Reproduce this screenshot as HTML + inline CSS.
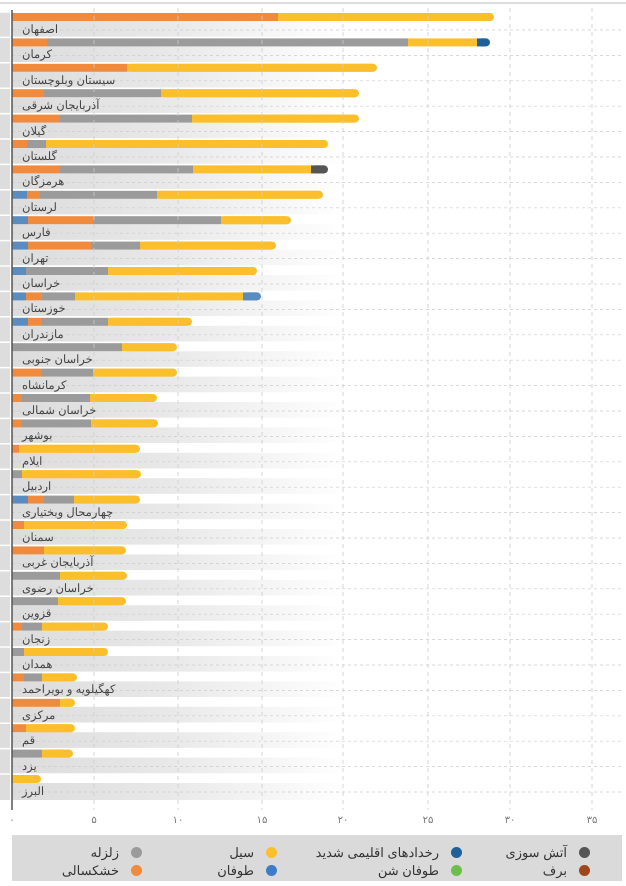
<!DOCTYPE html>
<html><head><meta charset="utf-8"><style>
body{margin:0;background:#fff;width:626px;height:886px;overflow:hidden;position:relative;font-family:"Liberation Sans","Noto Sans CJK SC",sans-serif}
.lab{position:absolute;left:22px;font-size:11.5px;color:#444;direction:rtl;white-space:nowrap;line-height:14px}
.lg{position:absolute;direction:rtl;font-size:13px;color:#333;white-space:nowrap;line-height:16px}
.lg i{display:inline-block;width:11px;height:11px;border-radius:50%;margin-left:12px;vertical-align:-1px}
.tk{position:absolute;top:815px;font-size:10px;color:#777;width:30px;margin-left:-15px;text-align:center}
</style></head><body>
<svg width="626" height="886" xmlns="http://www.w3.org/2000/svg" style="position:absolute;left:0;top:0">
<defs>
<linearGradient id="g" x1="0" x2="1" y1="0" y2="0">
<stop offset="0" stop-color="#dcdcdc"/><stop offset="0.25" stop-color="#e8e8e8"/><stop offset="0.55" stop-color="#ffffff"/><stop offset="1" stop-color="#ffffff"/>
</linearGradient>
</defs>
<line x1="0" y1="3" x2="626" y2="3" stroke="#bbb" stroke-width="1"/>
<g id="rows"></g>
<rect x="12" y="835" width="610" height="46" fill="#dadada"/>
</svg>
<div id="labs"></div>
<div class="lg" style="right:36px;top:845px"><i style="background:#555"></i>آتش سوزی</div>
<div class="lg" style="right:36px;top:863px"><i style="background:#a0461a"></i>برف</div>
<div class="lg" style="right:164px;top:845px"><i style="background:#1f5f9a"></i>رخدادهای اقلیمی شدید</div>
<div class="lg" style="right:164px;top:863px"><i style="background:#6cbf4a"></i>طوفان شن</div>
<div class="lg" style="right:349px;top:845px"><i style="background:#fbbf2d"></i>سیل</div>
<div class="lg" style="right:349px;top:863px"><i style="background:#3d7cc9"></i>طوفان</div>
<div class="lg" style="right:484px;top:845px"><i style="background:#9b9b9b"></i>زلزله</div>
<div class="lg" style="right:484px;top:863px"><i style="background:#f08a3c"></i>خشکسالی</div>
<script>
const X0=12;
const C={o:"#f08a3c",y:"#fbbf2d",g:"#9b9b9b",b:"#5a8cc0",d:"#555",n:"#1f5f9a"};
const rows=[
["اصفهان",[["o",278],["y",494]]],
["کرمان",[["o",47],["g",408],["y",477],["n",490]]],
["سیستان وبلوچستان",[["o",127],["y",377]]],
["آذربایجان شرقی",[["o",44],["g",161],["y",359]]],
["گیلان",[["o",60],["g",192],["y",359]]],
["گلستان",[["o",27],["g",46],["y",328]]],
["هرمزگان",[["o",60],["g",193],["y",311],["d",328]]],
["لرستان",[["b",27],["o",40],["g",157],["y",323]]],
["فارس",[["b",28],["o",94],["g",221],["y",291]]],
["تهران",[["b",28],["o",91],["g",140],["y",276]]],
["خراسان",[["b",26],["g",108],["y",257]]],
["خوزستان",[["b",26],["o",42],["g",75],["y",243],["b",261]]],
["مازندران",[["b",28],["o",42],["g",108],["y",192]]],
["خراسان جنوبی",[["g",122],["y",177]]],
["کرمانشاه",[["o",42],["g",93],["y",177]]],
["خراسان شمالی",[["o",22],["g",90],["y",157]]],
["بوشهر",[["o",22],["g",91],["y",158]]],
["ایلام",[["o",19],["y",140]]],
["اردبیل",[["g",22],["y",141]]],
["چهارمحال وبختیاری",[["b",28],["o",44],["g",74],["y",140]]],
["سمنان",[["o",24],["y",127]]],
["آذربایجان غربی",[["o",44],["y",126]]],
["خراسان رضوی",[["g",60],["y",127]]],
["قزوین",[["g",58],["y",126]]],
["زنجان",[["o",22],["g",42],["y",108]]],
["همدان",[["g",24],["y",108]]],
["کهگیلویه و بویراحمد",[["o",24],["g",42],["y",77]]],
["مرکزی",[["o",60],["y",75]]],
["قم",[["o",26],["y",75]]],
["یزد",[["g",42],["y",73]]],
["البرز",[["y",41]]]
];
let h="",L="";
rows.forEach((r,i)=>{const y=13+25.4*i;
h+=`<rect x="0" y="${y-1}" width="10" height="26" fill="#ddd"/>`;
h+=`<rect x="12" y="${y+8}" width="610" height="17" fill="url(#g)"/>`;
h+=`<line x1="12" y1="${y+17}" x2="622" y2="${y+17}" stroke="#ccc" stroke-dasharray="3,3" stroke-width="0.7"/>`;
h+=`<line x1="0" y1="${y-1}" x2="622" y2="${y-1}" stroke="#fff" stroke-width="1.5"/>`;
let px=X0;const segs=r[1];
segs.forEach((s,j)=>{const w=s[1]-px;
if(j==segs.length-1){h+=`<rect x="${px}" y="${y}" width="${w}" height="8" rx="4" fill="${C[s[0]]}"/><rect x="${px}" y="${y}" width="${Math.max(0,w-4)}" height="8" fill="${C[s[0]]}"/>`;}
else h+=`<rect x="${px}" y="${y}" width="${w}" height="8" fill="${C[s[0]]}"/>`;
px=s[1];});
L+=`<div class="lab" style="top:${y+10}px">${r[0]}</div>`;
});
const ticks=["۰","۵","۱۰","۱۵","۲۰","۲۵","۳۰","۳۵"],tx=[12,94,178,262,343,428,510,592];
tx.forEach((x,k)=>{if(k>0)h+=`<line x1="${x}" y1="8" x2="${x}" y2="810" stroke="#ccc" stroke-dasharray="4,4" stroke-width="0.8"/>`;
L+=`<div class="tk" style="left:${x}px">${ticks[k]}</div>`;});
h+=`<line x1="12" y1="10" x2="12" y2="810" stroke="#555" stroke-width="1.5"/>`;
document.getElementById("rows").innerHTML=h;
document.getElementById("labs").innerHTML=L;
</script>
</body></html>
